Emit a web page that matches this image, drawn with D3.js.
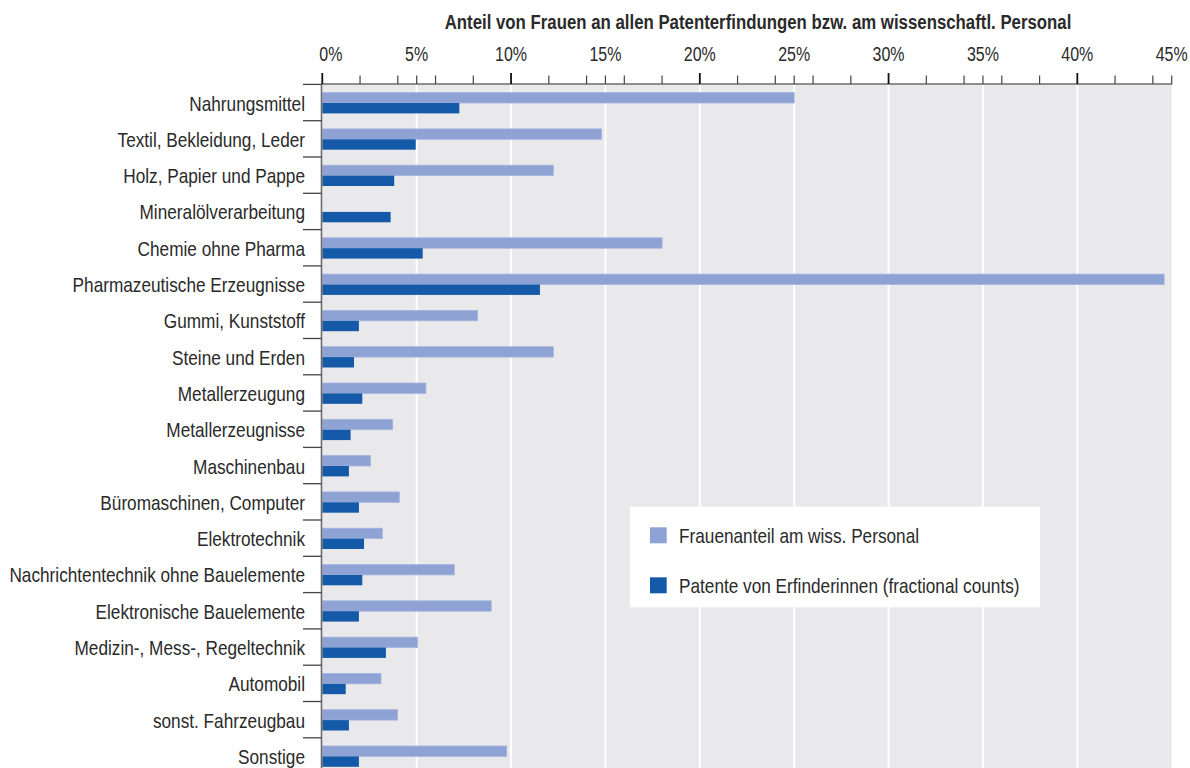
<!DOCTYPE html>
<html><head><meta charset="utf-8">
<script src="https://cdn.jsdelivr.net/npm/d3@7"></script>
<style>
html,body{margin:0;padding:0;background:#fff;}
svg{display:block;}
text{font-family:"Liberation Sans",Arial,sans-serif;fill:#2a2a2a;}
</style></head>
<body>
<svg id="chart" width="1190" height="768"></svg>
<script>
const categories = ["Nahrungsmittel","Textil, Bekleidung, Leder","Holz, Papier und Pappe","Mineralölverarbeitung","Chemie ohne Pharma","Pharmazeutische Erzeugnisse","Gummi, Kunststoff","Steine und Erden","Metallerzeugung","Metallerzeugnisse","Maschinenbau","Büromaschinen, Computer","Elektrotechnik","Nachrichtentechnik ohne Bauelemente","Elektronische Bauelemente","Medizin-, Mess-, Regeltechnik","Automobil","sonst. Fahrzeugbau","Sonstige"];
const frauenanteilPersonal = [25.0,14.8,12.24,0,18.0,44.6,8.23,12.24,5.49,3.73,2.56,4.08,3.18,6.99,8.95,5.05,3.11,3.99,9.77];
const patenteErfinderinnen = [7.26,4.95,3.81,3.62,5.32,11.53,1.94,1.68,2.12,1.50,1.41,1.94,2.21,2.12,1.94,3.37,1.24,1.41,1.94];
const seriesNames = ["Frauenanteil am wiss. Personal","Patente von Erfinderinnen (fractional counts)"];
const tickValues = [0,5,10,15,20,25,30,35,40,45];
const minorTickValues = [0,2,4,5,6,8,10,12,14,15,16,18,20,22,24,25,26,28,30,32,34,35,36,38,40,42,44,45];
const title = "Anteil von Frauen an allen Patenterfindungen bzw. am wissenschaftl. Personal";

const colLight = "#8fa2d4", colLightStroke = "#a6b5de", colDark = "#145aa9";
const narrow = 0.82;
const svg = d3.select("#chart");
const x = d3.scaleLinear().domain([0,45]).range([322.3,1171.7]);
const rowH = 36.3, topY = 84.4;
const y = d3.scaleBand().domain(categories).range([topY, topY + rowH*categories.length]);

// helper: narrow text at position
function ntext(sel, tx, ty){
  return sel.attr("transform", (d,i)=>`translate(${tx(d,i)},${ty(d,i)}) scale(${narrow},1)`);
}

// panel
svg.append("rect").attr("x", x(0)).attr("y", topY).attr("width", x(45)-x(0)).attr("height", 768-topY).attr("fill","#e9e9ec");
// gridlines
svg.append("g").selectAll("line").data(tickValues.filter(d=>d>0 && d<45)).join("line")
  .attr("x1", d=>x(d)).attr("x2", d=>x(d)).attr("y1", topY).attr("y2", 768)
  .attr("stroke","#fff").attr("stroke-width",2);

// bars
const bh = 10.4;
svg.append("g").selectAll("rect").data(categories).join("rect")
  .attr("x", x(0)).attr("y", d=>y(d)+8.2)
  .attr("width", (d,i)=>Math.max(0, x(frauenanteilPersonal[i])-x(0)))
  .attr("height", bh).attr("fill", colLight).attr("stroke", colLightStroke).attr("stroke-width", 0.8)
  .attr("display",(d,i)=>frauenanteilPersonal[i]>0?null:"none");
svg.append("g").selectAll("rect").data(categories).join("rect")
  .attr("x", x(0)).attr("y", d=>y(d)+8.2+bh)
  .attr("width", (d,i)=>x(patenteErfinderinnen[i])-x(0))
  .attr("height", bh).attr("fill", colDark);

// top axis
const ax = svg.append("g");
ax.append("line").attr("x1", x(0)-1).attr("x2", x(45)+0.5).attr("y1", 84).attr("y2", 84).attr("stroke","#6a6a6a").attr("stroke-width",1.6);
ax.selectAll("line.minor").data(minorTickValues).join("line").attr("class","minor")
  .attr("x1", d=>x(d)).attr("x2", d=>x(d)).attr("y1", d=>d%10===0?73:75.5).attr("y2", 84)
  .attr("stroke", d=>d%10===0?"#111":"#444").attr("stroke-width", d=>d%10===0?1.8:1.2);
ntext(ax.selectAll("text").data(tickValues).join("text"), d=>d===0? x(d)-3 : x(d), ()=>61)
  .attr("text-anchor", d=>d===0?"start":"middle")
  .style("font-size","19.5px").text(d=>d+"%");

// title
svg.append("text").attr("transform",`translate(758,29) scale(${narrow},1)`).attr("text-anchor","middle")
  .style("font-size","20.5px").style("font-weight","bold").text(title);

// left axis
const la = svg.append("g");
la.append("line").attr("x1", 321.5).attr("x2", 321.5).attr("y1", 84).attr("y2", 768).attr("stroke","#6a6a6a").attr("stroke-width",1.6);
const bounds = categories.map(d=>y(d)).concat([y(categories[categories.length-1])+y.bandwidth()]);
la.selectAll("line.sep").data(bounds).join("line").attr("class","sep")
  .attr("x1", 303).attr("x2", 321.5).attr("y1", d=>d).attr("y2", d=>d)
  .attr("stroke","#444").attr("stroke-width",1.3);
ntext(la.selectAll("text").data(categories).join("text"), ()=>305, d=>y(d)+y.bandwidth()/2+8)
  .attr("text-anchor","end").style("font-size","21px").text(d=>d);

// legend
const lg = svg.append("g");
lg.append("rect").attr("x",630).attr("y",506.7).attr("width",410).attr("height",100.6).attr("fill","#fff");
const lcol = [colLight, colDark];
seriesNames.forEach((s,i)=>{
  lg.append("rect").attr("x",650).attr("y",527.3+i*50).attr("width",16.7).attr("height",16).attr("fill",lcol[i]);
  lg.append("text").attr("transform",`translate(679,${543.3+i*50}) scale(${narrow},1)`).style("font-size","21px").text(s);
});
</script>
</body></html>
